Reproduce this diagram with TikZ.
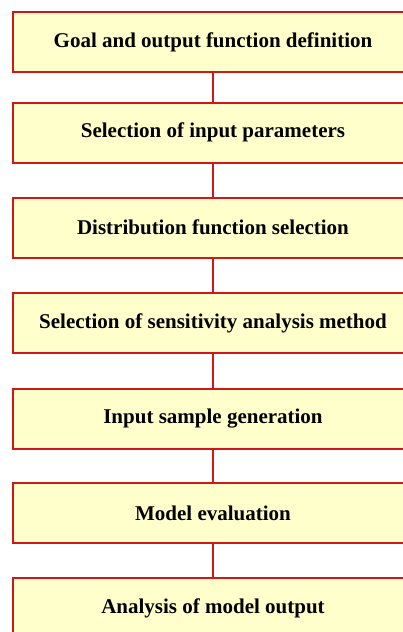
\documentclass[tikz,border=0pt]{standalone}
\usepackage{fontspec}
\setmainfont{Liberation Serif}
\definecolor{boxred}{HTML}{D01818}
\definecolor{boxfill}{HTML}{FFFFCC}
\begin{document}
\begin{tikzpicture}[x=1pt,y=-1pt,
  stepbox/.style={draw=boxred, fill=boxfill, line width=2pt, rectangle,
    minimum width=401pt, minimum height=60pt, inner sep=0pt,
    font=\fontsize{21}{25}\selectfont\bfseries},
  link/.style={draw=boxred, line width=2pt}]
\useasboundingbox (0,0) rectangle (403,632);
\clip (0,0) rectangle (403,632);
\node[stepbox] (b1) at (213,42) {Goal and output function definition};
\node[stepbox] (b2) at (213,132.5) {Selection of input parameters};
\node[stepbox] (b3) at (213,227.5) {Distribution function selection};
\node[stepbox] (b4) at (213,323) {Selection of sensitivity analysis method};
\node[stepbox] (b5) at (213,418.5) {Input sample generation};
\node[stepbox] (b6) at (213,513) {Model evaluation};
\node[stepbox] (b7) at (213,608) {Analysis of model output};
\draw[link] (b1.south) -- (b2.north);
\draw[link] (b2.south) -- (b3.north);
\draw[link] (b3.south) -- (b4.north);
\draw[link] (b4.south) -- (b5.north);
\draw[link] (b5.south) -- (b6.north);
\draw[link] (b6.south) -- (b7.north);
\end{tikzpicture}
\end{document}
